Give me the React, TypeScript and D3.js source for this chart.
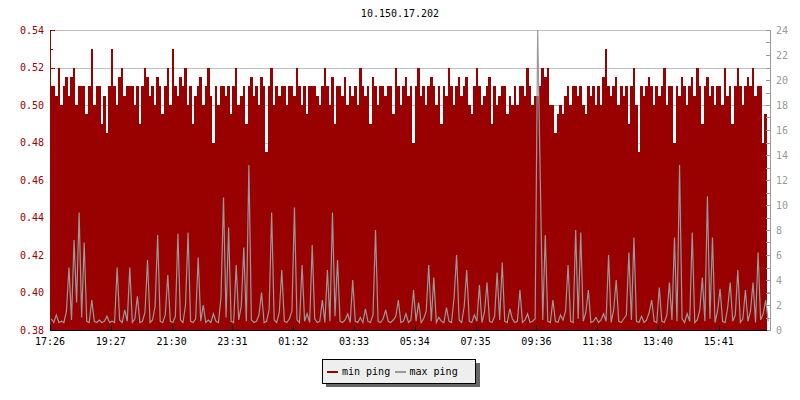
import React from "react";
import * as d3 from "d3";

const title = "10.150.17.202";
const seriesNames = ["min ping", "max ping"];
const xTickLabels = ["17:26", "19:27", "21:30", "23:31", "01:32", "03:33", "05:34", "07:35", "09:36", "11:38", "13:40", "15:41"];
const pointsPerTick = 24;
const leftTicks = [0.38, 0.40, 0.42, 0.44, 0.46, 0.48, 0.50, 0.52, 0.54];
const rightTicks = [0, 2, 4, 6, 8, 10, 12, 14, 16, 18, 20, 22, 24];

const minPing = [
  0.51, 0.51, 0.505, 0.52, 0.50, 0.51, 0.515, 0.505, 0.515, 0.52, 0.50, 0.51, 0.51, 0.51, 0.495, 0.51, 0.53, 0.50, 0.51, 0.51, 0.49, 0.505, 0.485, 0.51,
  0.53, 0.51, 0.50, 0.515, 0.52, 0.505, 0.51, 0.51, 0.51, 0.50, 0.51, 0.49, 0.51, 0.52, 0.515, 0.505, 0.51, 0.50, 0.515, 0.51, 0.495, 0.51, 0.52, 0.50,
  0.53, 0.51, 0.505, 0.515, 0.51, 0.52, 0.50, 0.51, 0.49, 0.505, 0.51, 0.515, 0.50, 0.51, 0.52, 0.505, 0.48, 0.51, 0.50, 0.51, 0.51, 0.505, 0.51, 0.495,
  0.51, 0.52, 0.50, 0.505, 0.51, 0.49, 0.51, 0.515, 0.505, 0.51, 0.50, 0.515, 0.51, 0.475, 0.51, 0.52, 0.50, 0.51, 0.505, 0.51, 0.51, 0.50, 0.51, 0.51,
  0.505, 0.52, 0.51, 0.50, 0.51, 0.495, 0.51, 0.51, 0.51, 0.505, 0.50, 0.51, 0.52, 0.51, 0.50, 0.515, 0.49, 0.51, 0.51, 0.505, 0.515, 0.50, 0.51, 0.505,
  0.51, 0.50, 0.52, 0.51, 0.505, 0.51, 0.49, 0.515, 0.51, 0.50, 0.51, 0.51, 0.505, 0.51, 0.51, 0.495, 0.52, 0.51, 0.50, 0.51, 0.515, 0.505, 0.51, 0.48,
  0.51, 0.52, 0.505, 0.51, 0.50, 0.51, 0.515, 0.51, 0.50, 0.51, 0.49, 0.51, 0.505, 0.52, 0.51, 0.50, 0.51, 0.515, 0.505, 0.51, 0.515, 0.50, 0.495, 0.51,
  0.52, 0.51, 0.50, 0.505, 0.51, 0.515, 0.49, 0.51, 0.50, 0.505, 0.51, 0.51, 0.495, 0.505, 0.50, 0.51, 0.50, 0.51, 0.51, 0.505, 0.52, 0.51, 0.50, 0.505,
  0.505, 0.51, 0.52, 0.515, 0.52, 0.50, 0.50, 0.485, 0.495, 0.50, 0.495, 0.505, 0.51, 0.50, 0.51, 0.51, 0.505, 0.51, 0.50, 0.495, 0.51, 0.505, 0.51, 0.50,
  0.51, 0.50, 0.515, 0.53, 0.51, 0.505, 0.51, 0.515, 0.50, 0.51, 0.505, 0.51, 0.49, 0.51, 0.52, 0.50, 0.475, 0.51, 0.505, 0.51, 0.515, 0.51, 0.50, 0.51,
  0.505, 0.51, 0.52, 0.50, 0.51, 0.51, 0.48, 0.51, 0.505, 0.515, 0.51, 0.50, 0.51, 0.515, 0.505, 0.52, 0.51, 0.49, 0.51, 0.515, 0.505, 0.51, 0.50, 0.51,
  0.51, 0.50, 0.52, 0.505, 0.51, 0.49, 0.51, 0.52, 0.51, 0.50, 0.51, 0.515, 0.51, 0.52, 0.505, 0.51, 0.51, 0.48, 0.495, 0.52,
];

const maxPing = [
  0.9, 0.6, 1.2, 0.6, 0.7, 0.6, 1.5, 5.0, 0.8, 7.2, 2.2, 9.4, 1.0, 7.0, 0.7, 0.6, 2.4, 0.7, 0.6, 0.8, 0.6, 0.7, 1.1, 0.6,
  0.7, 0.6, 5.0, 0.8, 0.6, 1.6, 0.7, 5.0, 0.6, 0.9, 2.7, 0.6, 0.7, 1.4, 5.6, 0.6, 0.8, 1.9, 7.6, 0.7, 0.6, 1.2, 4.4, 0.7,
  0.6, 1.1, 7.7, 0.8, 0.6, 2.0, 7.8, 0.7, 0.6, 0.9, 5.8, 0.7, 2.0, 0.6, 0.8, 0.6, 1.3, 0.7, 0.6, 2.6, 10.6, 1.0, 8.2, 0.7,
  0.6, 5.2, 0.8, 1.9, 6.6, 0.7, 13.2, 0.8, 0.6, 0.7, 1.2, 3.0, 0.6, 0.7, 1.6, 9.4, 0.8, 0.6, 1.4, 4.8, 0.7, 0.6, 0.9, 1.5,
  9.8, 0.8, 0.6, 5.2, 0.7, 1.3, 0.6, 6.8, 0.9, 0.6, 0.7, 2.4, 0.6, 4.8, 0.7, 9.4, 1.1, 5.6, 0.7, 0.6, 0.8, 1.3, 0.6, 4.0,
  0.7, 0.6, 1.0, 0.6, 1.7, 0.7, 0.6, 1.2, 8.0, 0.7, 0.6, 0.9, 1.6, 0.7, 0.6, 0.8, 1.1, 2.4, 0.6, 0.7, 1.3, 0.6, 0.8, 3.2,
  0.7, 2.2, 0.6, 0.9, 1.5, 5.2, 0.7, 4.2, 0.6, 1.0, 0.7, 0.6, 1.8, 0.7, 0.6, 2.6, 6.0, 0.8, 0.6, 1.9, 4.8, 0.7, 0.6, 1.2,
  0.7, 3.6, 0.6, 1.4, 3.8, 0.7, 0.6, 1.1, 4.6, 0.8, 5.4, 0.7, 0.6, 1.7, 0.9, 0.6, 0.7, 3.2, 0.6, 0.8, 1.3, 0.6, 0.7, 0.9,
  24, 12.4, 0.8, 7.6, 0.7, 0.6, 2.4, 0.7, 0.6, 1.2, 0.8, 1.5, 5.2, 0.7, 0.6, 8.0, 0.9, 7.8, 0.7, 1.4, 3.2, 0.6, 0.7, 1.0,
  0.6, 0.8, 1.3, 0.7, 6.0, 0.6, 1.6, 4.0, 0.7, 0.6, 0.9, 1.2, 6.2, 0.8, 7.4, 0.7, 0.6, 1.1, 0.6, 0.8, 1.4, 2.4, 0.7, 0.6,
  3.4, 0.7, 0.6, 1.2, 3.8, 0.8, 7.4, 0.7, 13.2, 0.9, 0.6, 1.3, 0.7, 7.8, 0.6, 0.8, 1.6, 4.2, 0.7, 10.7, 0.9, 7.4, 0.6, 1.5,
  3.3, 0.7, 0.6, 1.8, 3.8, 0.7, 1.2, 4.8, 0.6, 0.9, 3.2, 0.7, 1.5, 3.8, 0.6, 6.2, 0.8, 1.3, 2.4, 0.7,
];

const RED = "#990000";
const GRAY = "#999999";
const FONT = "DejaVu Sans Mono";

export default function App() {
  const W = 800, H = 400;
  const left = 50, right = 770, top = 30, bottom = 330;
  const x = d3.scaleLinear().domain([0, 284]).range([left, 769.5]);
  const yL = d3.scaleLinear().domain([0.38, 0.54]).range([bottom, top]);
  const yR = d3.scaleLinear().domain([0, 24]).range([bottom, top]);

  const area = d3.area<number>().x((_, i) => x(i)).y0(yL(0.38)).y1((d) => yL(d)).curve(d3.curveStepAfter);
  const line = d3.line<number>().x((_, i) => x(i) + 1.25).y((d) => yR(d)).curve(d3.curveLinear);

  const leftMinor = d3.range(0.38, 0.5401, 0.01);
  const rightMinor = d3.range(0, 25, 1);
  const xTickIdx = xTickLabels.map((_, k) => k * pointsPerTick);

  return (
    <svg width={W} height={H} style={{ position: "absolute", left: 0, top: 0, background: "#fff" }} fontFamily={FONT} fontSize={10}>
      <rect x={0} y={0} width={W} height={H} fill="#fff" />
      <text x={W / 2} y={17} textAnchor="middle" fill="#000">{title}</text>
      {leftTicks.map((t) => (
        <line key={"g" + t} x1={left} x2={right} y1={Math.round(yL(t)) + 0.5} y2={Math.round(yL(t)) + 0.5} stroke="#c0c0c0" strokeWidth={1} shapeRendering="crispEdges" />
      ))}
      <path d={area(minPing) || ""} fill={RED} stroke="none" shapeRendering="crispEdges" />
      <path d={line(maxPing) || ""} fill="none" stroke={GRAY} strokeWidth={1.2} strokeLinejoin="miter" />
      <line x1={left + 0.5} x2={left + 0.5} y1={top} y2={bottom + 1} stroke={RED} shapeRendering="crispEdges" />
      {leftMinor.map((t, i) => {
        const yy = Math.round(yL(t)) + 0.5;
        const major = i % 2 === 0;
        return <line key={"lt" + i} x1={left} x2={left + (major ? 5 : 3)} y1={yy} y2={yy} stroke={RED} shapeRendering="crispEdges" />;
      })}
      {leftTicks.map((t) => (
        <text key={"ll" + t} x={44} y={yL(t) + 3.5} textAnchor="end" fill={RED}>{t.toFixed(2)}</text>
      ))}
      <line x1={right + 0.5} x2={right + 0.5} y1={top} y2={bottom + 1} stroke={GRAY} shapeRendering="crispEdges" />
      {rightMinor.map((t) => {
        const yy = Math.round(yR(t)) + 0.5;
        return <line key={"rt" + t} x1={right - 4} x2={right} y1={yy} y2={yy} stroke={GRAY} shapeRendering="crispEdges" />;
      })}
      {rightTicks.map((t) => (
        <text key={"rl" + t} x={776} y={yR(t) + 3.5} textAnchor="start" fill={GRAY}>{t}</text>
      ))}
      <line x1={left} x2={767} y1={bottom + 0.5} y2={bottom + 0.5} stroke="#000" shapeRendering="crispEdges" />
      {xTickIdx.map((idx, k) => {
        const xx = Math.round(x(idx)) + 0.5;
        return (
          <g key={"xt" + k}>
            <line x1={xx} x2={xx} y1={bottom - 5} y2={bottom} stroke="#000" shapeRendering="crispEdges" />
            <text x={x(idx)} y={345} textAnchor="middle" fill="#000">{xTickLabels[k]}</text>
          </g>
        );
      })}
      <rect x={326} y={363} width={154} height={24} fill="#666" />
      <rect x={322.5} y={359.5} width={153} height={24} fill="#eeeeee" stroke="#000" />
      <line x1={327} x2={338} y1={372} y2={372} stroke={RED} strokeWidth={2} />
      <text x={342} y={375} fill="#000">{seriesNames[0]}</text>
      <line x1={395} x2={406} y1={372} y2={372} stroke={GRAY} strokeWidth={2} />
      <text x={409.5} y={375} fill="#000">{seriesNames[1]}</text>
    </svg>
  );
}
